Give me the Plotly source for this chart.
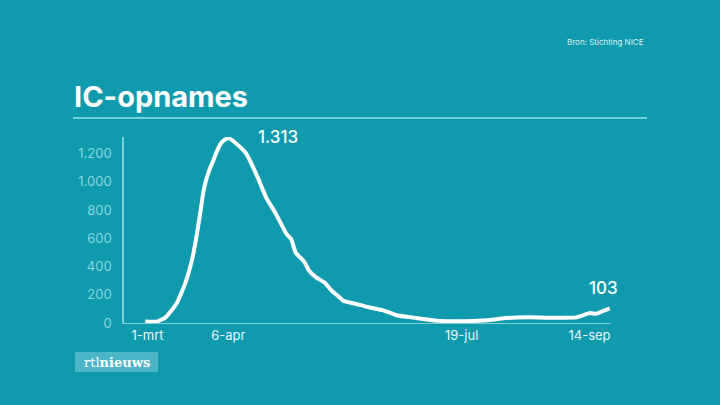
import plotly.graph_objects as go

# ---- data ----
dates = ["2020-02-29", "2020-03-05", "2020-03-09", "2020-03-14", "2020-03-18", "2020-03-21",
         "2020-03-23", "2020-03-25", "2020-03-26", "2020-03-28", "2020-03-30", "2020-04-01",
         "2020-04-03", "2020-04-06", "2020-04-10", "2020-04-14", "2020-04-19", "2020-04-23",
         "2020-04-27", "2020-05-02", "2020-05-04", "2020-05-06", "2020-05-10", "2020-05-12",
         "2020-05-15", "2020-05-19", "2020-05-22", "2020-05-25", "2020-05-27", "2020-06-02",
         "2020-06-08", "2020-06-14", "2020-06-20", "2020-06-29", "2020-07-09", "2020-07-19",
         "2020-07-30", "2020-08-08", "2020-08-18", "2020-08-26", "2020-09-08", "2020-09-14",
         "2020-09-17", "2020-09-20", "2020-09-23"]
ic_opnames = [10, 10, 40, 140, 290, 460,
              630, 835, 940, 1060, 1140, 1220,
              1280, 1313, 1265, 1200, 1035, 885,
              780, 630, 595, 500, 430, 370,
              325, 285, 230, 190, 160, 135,
              110, 90, 55, 35, 15, 12,
              20, 35, 40, 38, 40, 70,
              65, 85, 103]
x_tick_vals = ["2020-03-01", "2020-04-06", "2020-07-19", "2020-09-14"]
x_tick_text = ["1-mrt", "6-apr", "19-jul", "14-sep"]
y_tick_vals = [0, 200, 400, 600, 800, 1000, 1200]
y_tick_text = ["0", "200", "400", "600", "800", "1.000", "1.200"]
peak_label = "1.313"
last_label = "103"

BG = "#0F9AAD"
W, H = 720, 405
L, R, T, B = 124, 109, 137, 82
PW, PH = W - L - R, H - T - B


def px(x):
    return (x - L) / PW


def py(y):
    return (H - B - y) / PH


FONT = "Inter"

fig = go.Figure()
fig.add_trace(go.Scatter(
    x=dates, y=ic_opnames, mode="lines",
    line=dict(color="white", width=4, shape="spline", smoothing=0.5),
    cliponaxis=False, hoverinfo="skip", showlegend=False,
))

peak_i = ic_opnames.index(max(ic_opnames))
fig.add_annotation(x=dates[peak_i], y=ic_opnames[peak_i], text=peak_label,
                   xanchor="left", yanchor="middle", xshift=28, yshift=1,
                   showarrow=False, font=dict(family=FONT, size=17, color="white", weight=500))
fig.add_annotation(x=dates[-1], y=ic_opnames[-1], text=last_label,
                   xanchor="right", yanchor="bottom", xshift=10, yshift=8,
                   showarrow=False, font=dict(family=FONT, size=17, color="white", weight=500))

# title, source, rule, logo
fig.add_annotation(xref="paper", yref="paper", x=px(72), y=py(96), text="<b>IC-opnames</b>",
                   xanchor="left", yanchor="middle", showarrow=False,
                   font=dict(family=FONT, size=29, color="white"))
fig.add_annotation(xref="paper", yref="paper", x=px(646), y=py(42), text="Bron: Stichting NICE",
                   xanchor="right", yanchor="middle", showarrow=False,
                   font=dict(family=FONT, size=8, color="#D8F3F6"))
fig.add_shape(type="line", xref="paper", yref="paper", x0=px(73), x1=px(647), y0=py(118), y1=py(118),
              line=dict(color="#8FE3EE", width=1.5))
fig.add_shape(type="rect", xref="paper", yref="paper", x0=px(75), x1=px(158), y0=py(352), y1=py(372),
              fillcolor="#4DB5C8", line=dict(width=0), layer="below")
fig.add_annotation(xref="paper", yref="paper", x=px(116.5), y=py(362),
                   text="rtl<b>nieuws</b>", xanchor="center", yanchor="middle", showarrow=False,
                   font=dict(family="DejaVu Serif", size=13, color="white"))

fig.update_layout(
    width=W, height=H, paper_bgcolor=BG, plot_bgcolor=BG,
    margin=dict(l=L, r=R, t=T, b=B),
    xaxis=dict(type="date", range=["2020-02-19 12:00", "2020-09-23 14:00"],
               tickvals=x_tick_vals, ticktext=x_tick_text, showgrid=False, zeroline=False,
               showline=True, linecolor="#7FCFDB", linewidth=1, ticks="",
               tickfont=dict(family=FONT, size=13, color="#E4F6F8")),
    yaxis=dict(range=[0, 1318], tickvals=y_tick_vals, ticktext=y_tick_text,
               showgrid=False, zeroline=False, showline=True, linecolor="#7FCFDB", linewidth=1.5,
               ticks="", ticklabelstandoff=8,
               tickfont=dict(family=FONT, size=13, color="#86D6E1")),
)

fig.write_html("out.html", config={"displayModeBar": False},
               post_script="document.body.style.margin='0';document.body.style.overflow='hidden';"
                           "document.body.style.background='" + BG + "';")
